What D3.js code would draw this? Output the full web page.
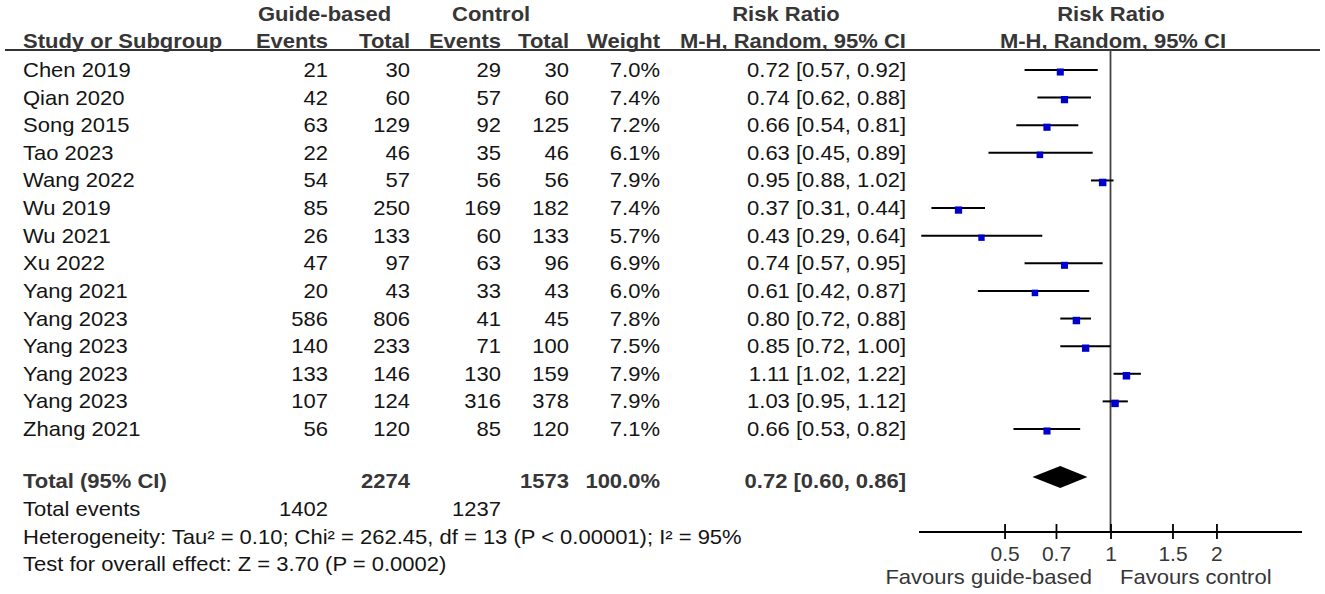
<!DOCTYPE html>
<html>
<head>
<meta charset="utf-8">
<script src="https://cdn.jsdelivr.net/npm/d3@7"></script>
<style>
  html, body { margin: 0; padding: 0; background: #fff; }
  svg { display: block; font-family: "Liberation Sans", Arial, sans-serif; }
</style>
</head>
<body>
<svg id="chart" width="1325" height="594"></svg>
<script>
// ---------------- data ----------------
const studies = ["Chen 2019","Qian 2020","Song 2015","Tao 2023","Wang 2022","Wu 2019","Wu 2021","Xu 2022","Yang 2021","Yang 2023","Yang 2023","Yang 2023","Yang 2023","Zhang 2021"];
const guideEvents = [21,42,63,22,54,85,26,47,20,586,140,133,107,56];
const guideTotal  = [30,60,129,46,57,250,133,97,43,806,233,146,124,120];
const ctrlEvents  = [29,57,92,35,56,169,60,63,33,41,71,130,316,85];
const ctrlTotal   = [30,60,125,46,56,182,133,96,43,45,100,159,378,120];
const weights     = [7.0,7.4,7.2,6.1,7.9,7.4,5.7,6.9,6.0,7.8,7.5,7.9,7.9,7.1];
const rr          = [0.72,0.74,0.66,0.63,0.95,0.37,0.43,0.74,0.61,0.80,0.85,1.11,1.03,0.66];
const rrLow       = [0.57,0.62,0.54,0.45,0.88,0.31,0.29,0.57,0.42,0.72,0.72,1.02,0.95,0.53];
const rrHigh      = [0.92,0.88,0.81,0.89,1.02,0.44,0.64,0.95,0.87,0.88,1.00,1.22,1.12,0.82];
const pooled      = {rr: 0.72, lo: 0.60, hi: 0.86};
const totals      = {guideTotal: 2274, ctrlTotal: 1573, weight: "100.0%", guideEvents: 1402, ctrlEvents: 1237};
const tickValues  = [0.5, 0.7, 1, 1.5, 2];
const tickLabels  = ["0.5", "0.7", "1", "1.5", "2"];
const heterogeneity = "Heterogeneity: Tau² = 0.10; Chi² = 262.45, df = 13 (P < 0.00001); I² = 95%";
const overall     = "Test for overall effect: Z = 3.70 (P = 0.0002)";

// ---------------- layout ----------------
const svg = d3.select("#chart");
const FS = 20, SX = 1.1;
const bodyCol = "#141414", headCol = "#363636";

function txt(x, y, s, opts = {}) {
  const t = svg.append("text")
    .attr("transform", `translate(${x},${y}) scale(${SX},1)`)
    .attr("dy", "0.35em")
    .attr("font-size", opts.size || FS)
    .attr("fill", opts.fill || bodyCol)
    .attr("font-weight", opts.bold ? "bold" : "normal")
    .attr("text-anchor", opts.anchor || "start")
    .text(s);
  return t;
}

const fmt2 = d3.format(".2f");
const fmt1 = d3.format(".1f");

const y = d3.scalePoint().domain(d3.range(studies.length)).range([70, 429]);
const x = d3.scaleLog().domain([1 / 3.5, 3.5]).range([919, 1302]);

// column right edges
const cGE = 328, cGT = 410, cCE = 501, cCT = 569, cW = 660, cRR = 906;

// headers
txt(258, 14, "Guide-based", {bold: true, fill: headCol});
txt(452, 14, "Control", {bold: true, fill: headCol});
txt(786, 14, "Risk Ratio", {bold: true, fill: headCol, anchor: "middle"});
txt(1111, 14, "Risk Ratio", {bold: true, fill: headCol, anchor: "middle"});
txt(23, 41, "Study or Subgroup", {bold: true, fill: headCol});
txt(cGE, 41, "Events", {bold: true, fill: headCol, anchor: "end"});
txt(cGT, 41, "Total", {bold: true, fill: headCol, anchor: "end"});
txt(cCE, 41, "Events", {bold: true, fill: headCol, anchor: "end"});
txt(cCT, 41, "Total", {bold: true, fill: headCol, anchor: "end"});
txt(cW, 41, "Weight", {bold: true, fill: headCol, anchor: "end"});
txt(cRR, 41, "M-H, Random, 95% CI", {bold: true, fill: headCol, anchor: "end"});
txt(1113, 41, "M-H, Random, 95% CI", {bold: true, fill: headCol, anchor: "middle"});

svg.append("line").attr("x1", 5).attr("x2", 1320).attr("y1", 50).attr("y2", 50)
  .attr("stroke", "#333").attr("stroke-width", 1.8);

// rows
studies.forEach((s, i) => {
  const yy = y(i);
  txt(23, yy, s);
  txt(cGE, yy, guideEvents[i], {anchor: "end"});
  txt(cGT, yy, guideTotal[i], {anchor: "end"});
  txt(cCE, yy, ctrlEvents[i], {anchor: "end"});
  txt(cCT, yy, ctrlTotal[i], {anchor: "end"});
  txt(cW, yy, fmt1(weights[i]) + "%", {anchor: "end"});
  txt(cRR, yy, `${fmt2(rr[i])} [${fmt2(rrLow[i])}, ${fmt2(rrHigh[i])}]`, {anchor: "end"});
});

// totals
const yTot = 481;
txt(23, yTot, "Total (95% CI)", {bold: true, fill: headCol});
txt(cGT, yTot, totals.guideTotal, {bold: true, fill: headCol, anchor: "end"});
txt(cCT, yTot, totals.ctrlTotal, {bold: true, fill: headCol, anchor: "end"});
txt(cW, yTot, totals.weight, {bold: true, fill: headCol, anchor: "end"});
txt(cRR, yTot, `${fmt2(pooled.rr)} [${fmt2(pooled.lo)}, ${fmt2(pooled.hi)}]`, {bold: true, fill: headCol, anchor: "end"});
txt(23, 509, "Total events");
txt(cGE, 509, totals.guideEvents, {anchor: "end"});
txt(cCE, 509, totals.ctrlEvents, {anchor: "end"});
txt(23, 537, heterogeneity);
txt(23, 564, overall);

// forest plot
const axisY = 532;
svg.append("line").attr("x1", x(1)).attr("x2", x(1)).attr("y1", 50).attr("y2", axisY)
  .attr("stroke", "#444").attr("stroke-width", 1.8);

const rows = svg.append("g");
studies.forEach((s, i) => {
  const yy = y(i);
  rows.append("line").attr("x1", x(rrLow[i])).attr("x2", x(rrHigh[i]))
    .attr("y1", yy).attr("y2", yy).attr("stroke", "#000").attr("stroke-width", 2);
  const sz = 7.5 * Math.sqrt(weights[i] / 7.9);
  rows.append("rect").attr("x", x(rr[i]) - sz / 2).attr("y", yy + 2 - sz / 2)
    .attr("width", sz).attr("height", sz).attr("fill", "#0000cc");
});

// diamond
const dY = 477, dH = 11;
svg.append("path")
  .attr("d", `M${x(pooled.lo)},${dY} L${x(pooled.rr)},${dY - dH} L${x(pooled.hi)},${dY} L${x(pooled.rr)},${dY + dH} Z`)
  .attr("fill", "#000");

// axis
const axis = d3.axisBottom(x).tickValues(tickValues).tickFormat((d, i) => tickLabels[i]).tickSizeOuter(0).tickSize(7).tickPadding(8);
const ag = svg.append("g").attr("transform", `translate(0,${axisY})`).call(axis);
ag.select(".domain").attr("stroke", "#000").attr("stroke-width", 1.8).attr("d", `M${x.range()[0]},0H${x.range()[1]}`);
ag.selectAll(".tick line").attr("y1", -8).attr("y2", 7).attr("stroke", "#000").attr("stroke-width", 1.8);
ag.selectAll(".tick text").attr("font-size", 21).attr("fill", headCol)
  .attr("font-family", "Liberation Sans, Arial, sans-serif").attr("y", 14).attr("dy", "0.71em");

txt(1092, 577, "Favours guide-based", {fill: headCol, anchor: "end"});
txt(1120, 577, "Favours control", {fill: headCol});
</script>
</body>
</html>
